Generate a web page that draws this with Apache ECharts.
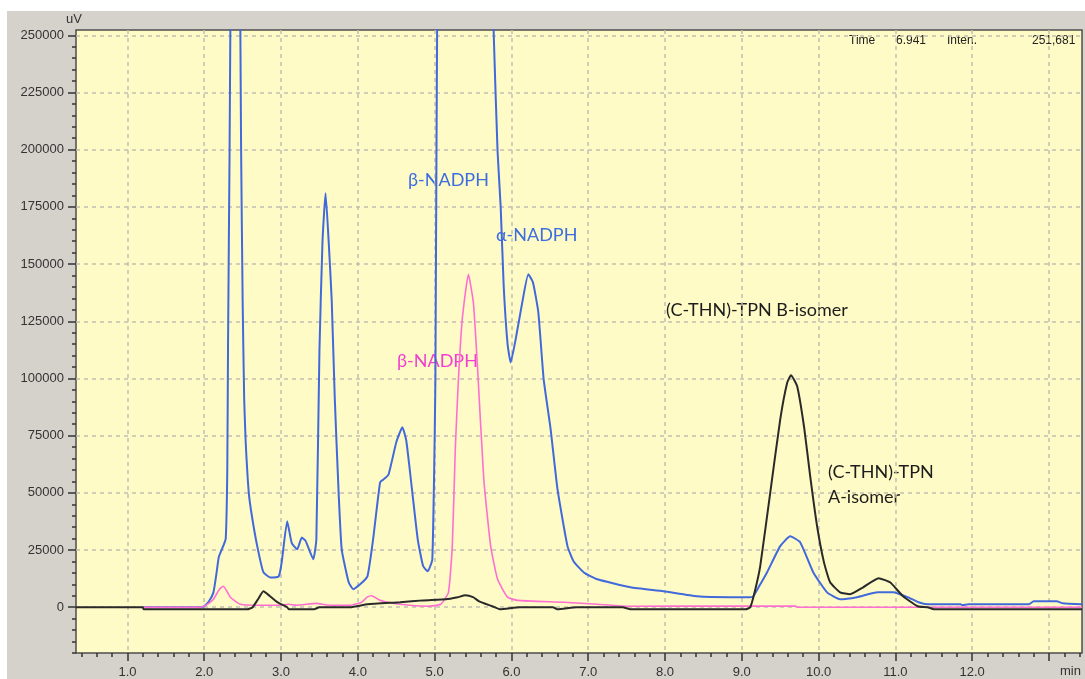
<!DOCTYPE html>
<html><head><meta charset="utf-8">
<script src="https://cdn.jsdelivr.net/npm/echarts@6/dist/echarts.min.js"></script>
<style>
html,body{margin:0;padding:0;background:#fff;}
#wrap{position:relative;width:1085px;height:679px;overflow:hidden;}
#panel{position:absolute;left:7px;top:11px;right:0;bottom:0;background:#d5d2cc;}
#c{position:absolute;left:0;top:0;width:1085px;height:679px;}
</style>
</head><body>
<div id="wrap"><div id="panel"></div><div id="c"></div></div>
<script>
// ---- axis ticks ----
const xTickValues = [1, 2, 3, 4, 5, 6, 7, 8, 9, 10, 11, 12, 13];
const xLabelValues = [1, 2, 3, 4, 5, 6, 7, 8, 9, 10, 11, 12];
const yTickValues = [0, 25000, 50000, 75000, 100000, 125000, 150000, 175000, 200000, 225000, 250000];

// ---- traces: [time (min), intensity (uV)] ----
const blueTrace = [
  [1.20, 0], [1.95, 0], [2.00, 500], [2.06, 2500], [2.12, 6500], [2.16, 15000], [2.19, 22000],
  [2.25, 27000], [2.28, 30000], [2.30, 60000], [2.31, 116000], [2.33, 200000], [2.35, 300000],
  [2.40, 420000], [2.46, 300000], [2.48, 200000], [2.50, 134000], [2.52, 91000], [2.54, 72000],
  [2.58, 50000], [2.62, 40000], [2.69, 26700], [2.77, 15300], [2.86, 13000], [2.97, 13500],
  [3.01, 20000], [3.08, 37600], [3.14, 28000], [3.21, 25300], [3.27, 30500], [3.32, 29000],
  [3.42, 21000], [3.46, 29700], [3.50, 112000], [3.54, 160000], [3.58, 181000], [3.62, 160000],
  [3.66, 134000], [3.70, 91000], [3.75, 50000], [3.79, 25300], [3.88, 11000], [3.94, 7900],
  [4.03, 10000], [4.125, 13500], [4.20, 30000], [4.29, 54600], [4.34, 56000], [4.40, 58000],
  [4.50, 72000], [4.58, 78700], [4.63, 73000], [4.68, 59000], [4.78, 29700], [4.85, 18000],
  [4.91, 15700], [4.97, 21000], [5.01, 100000], [5.04, 300000], [5.20, 700000], [5.40, 900000],
  [5.60, 700000], [5.74, 300000], [5.77, 250000], [5.82, 199000], [5.86, 175000], [5.90, 140000],
  [5.95, 115000], [5.99, 107000], [6.06, 118000], [6.14, 133000], [6.22, 145500], [6.28, 142000],
  [6.35, 129000], [6.42, 99600], [6.51, 78000], [6.60, 51600], [6.73, 26700], [6.81, 20000],
  [6.95, 15000], [7.12, 12200], [7.55, 8700], [7.98, 7000], [8.42, 4800], [8.85, 4400],
  [9.11, 4400], [9.15, 4800], [9.24, 10000], [9.33, 15300], [9.50, 26700], [9.63, 31000],
  [9.76, 28400], [9.93, 15300], [10.11, 6500], [10.28, 3500], [10.50, 4400], [10.77, 6500],
  [10.97, 6500], [11.16, 4400], [11.30, 2200], [11.42, 1300], [11.85, 1300],
  [11.87, 870], [11.95, 1300], [12.74, 1300], [12.80, 2600], [13.10, 2600], [13.18, 1700],
  [13.43, 1300]
];

const pinkTrace = [
  [1.20, 0], [1.95, 0], [2.05, 1500], [2.12, 3500], [2.20, 8000], [2.25, 9200], [2.34, 4400],
  [2.47, 1300], [2.72, 870], [2.97, 870], [3.10, 1300], [3.20, 870], [3.46, 1700], [3.60, 1000],
  [3.90, 870], [4.05, 2200], [4.12, 4400], [4.18, 5000], [4.29, 3000], [4.55, 1300], [4.90, 440],
  [5.08, 1300], [5.18, 6500], [5.23, 26700], [5.27, 70000], [5.31, 99600], [5.36, 126000],
  [5.44, 145500], [5.505, 133000], [5.56, 104000], [5.64, 56000], [5.73, 26700], [5.82, 12200],
  [5.95, 4400], [6.08, 3000], [6.68, 2200], [7.12, 1300], [7.55, 440], [8.85, 500], [9.70, 500],
  [9.72, 0], [13.43, 0]
];

const blackTrace = [
  [0.33, 0], [1.20, 0], [1.21, -870], [2.56, -870], [2.63, 0], [2.70, 3500], [2.77, 7000],
  [2.85, 5000], [2.95, 2200], [3.08, 0], [3.10, -870], [3.43, -870], [3.50, 0], [3.90, 0],
  [4.125, 1300], [4.55, 2200], [4.85, 3000], [5.15, 3500], [5.30, 4400], [5.40, 5200],
  [5.50, 4400], [5.58, 2600], [5.75, 440], [5.85, -870], [6.11, 0], [6.54, 0], [6.60, -870],
  [6.85, 0], [7.45, 0], [7.55, -870], [9.05, -870], [9.11, 0], [9.17, 7000], [9.24, 18000],
  [9.37, 50000], [9.50, 82000], [9.59, 98000], [9.64, 101400], [9.72, 96700], [9.81, 79000],
  [9.89, 57400], [9.98, 35500], [10.07, 19600], [10.15, 10900], [10.28, 6500], [10.41, 5700],
  [10.58, 8700], [10.78, 12700], [10.93, 10900], [11.10, 4800], [11.29, 440], [11.42, 0],
  [11.50, -870], [13.43, -870]
];

const X_MIN = 0.33, X_MAX = 13.43, Y_MIN = -20000, Y_MAX = 252300;
const xMinorTicks = [];
for (let i = 2; i <= 67; i++) xMinorTicks.push(+(i * 0.2).toFixed(1));
const yMinorTicks = [];
for (let v = -20000; v <= 250000; v += 5000) yMinorTicks.push(v);

const labelFont = 'Liberation Sans';
const annFont = 'Lato';

const chart = echarts.init(document.getElementById('c'), null, {renderer: 'canvas'});
chart.setOption({
  backgroundColor: 'transparent',
  animation: false,
  grid: {
    left: 76, top: 30, right: 3, bottom: 26,
    show: true, backgroundColor: '#fffbc6', borderColor: '#4d4d4d', borderWidth: 1.5
  },
  xAxis: [
    {
      type: 'value', min: X_MIN, max: X_MAX, position: 'bottom',
      axisLine: {show: false, onZero: false},
      axisTick: {show: true, customValues: xTickValues, length: 8, lineStyle: {color: '#333', width: 1.5}},
      axisLabel: {customValues: xLabelValues, formatter: v => v.toFixed(1), margin: 13,
        fontFamily: labelFont, fontSize: 13, color: '#333'},
      splitLine: {show: true, lineStyle: {color: '#c2c0b4', type: [4, 4], width: 1.5}}
    },
    {
      type: 'value', min: X_MIN, max: X_MAX, position: 'bottom',
      axisLine: {show: false, onZero: false},
      axisTick: {show: true, customValues: xMinorTicks, length: 4, lineStyle: {color: '#333', width: 1.5}},
      axisLabel: {show: false},
      splitLine: {show: false}
    }
  ],
  yAxis: [
    {
      type: 'value', min: Y_MIN, max: Y_MAX, position: 'left',
      axisLine: {show: false, onZero: false},
      axisTick: {show: true, customValues: yTickValues, length: 8, lineStyle: {color: '#333', width: 1.5}},
      axisLabel: {customValues: yTickValues, formatter: v => String(v), margin: 12,
        fontFamily: labelFont, fontSize: 13, color: '#333'},
      splitLine: {show: true, lineStyle: {color: '#c2c0b4', type: [4, 4], width: 1.5}}
    },
    {
      type: 'value', min: Y_MIN, max: Y_MAX, position: 'left',
      axisLine: {show: false, onZero: false},
      axisTick: {show: true, customValues: yMinorTicks, length: 4, lineStyle: {color: '#333', width: 1.5}},
      axisLabel: {show: false},
      splitLine: {show: false}
    }
  ],
  series: [
    {type: 'line', name: 'blue', data: blueTrace, showSymbol: false, smooth: 0.15, clip: true,
      lineStyle: {color: '#4169dc', width: 2}, z: 2},
    {type: 'line', name: 'pink', data: pinkTrace, showSymbol: false, smooth: 0.15, clip: true,
      lineStyle: {color: '#ff6fd2', width: 1.6}, z: 3},
    {type: 'line', name: 'black', data: blackTrace, showSymbol: false, smooth: 0.15, clip: true,
      lineStyle: {color: '#2a2a2a', width: 2}, z: 4}
  ],
  graphic: [
    {type: 'text', left: 66, top: 13, style: {text: 'uV', fill: '#333', font: '13px "' + labelFont + '"'}},
    {type: 'text', left: 1060, top: 665, style: {text: 'min', fill: '#333', font: '13px "' + labelFont + '"'}},
    {type: 'text', left: 849, top: 35, style: {text: 'Time', fill: '#222', font: '12px "' + labelFont + '"'}},
    {type: 'text', left: 896, top: 35, style: {text: '6.941', fill: '#222', font: '12px "' + labelFont + '"'}},
    {type: 'text', left: 947, top: 35, style: {text: 'Inten.', fill: '#222', font: '12px "' + labelFont + '"'}},
    {type: 'text', left: 1032, top: 35, style: {text: '251,681', fill: '#222', font: '12px "' + labelFont + '"'}},
    {type: 'text', left: 408, top: 171, style: {text: 'β-NADPH', fill: '#3c6ee0', font: '18px ' + annFont}},
    {type: 'text', left: 496, top: 226, style: {text: 'α-NADPH', fill: '#3c6ee0', font: '18px ' + annFont}},
    {type: 'text', left: 397, top: 352, style: {text: 'β-NADPH', fill: '#f23fd0', font: '18px ' + annFont}},
    {type: 'text', left: 666, top: 301, style: {text: '(C-THN)-TPN B-isomer', fill: '#1c1c1c', font: '18px ' + annFont}},
    {type: 'text', left: 828, top: 463, style: {text: '(C-THN)-TPN', fill: '#1c1c1c', font: '18px ' + annFont}},
    {type: 'text', left: 828, top: 488, style: {text: 'A-isomer', fill: '#1c1c1c', font: '18px ' + annFont}}
  ]
});
</script>
</body></html>
